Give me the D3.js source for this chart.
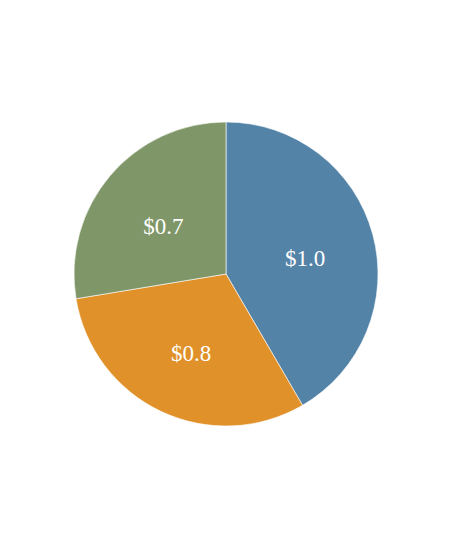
<!DOCTYPE html>
<html>
<head>
<meta charset="utf-8">
<script src="https://cdn.jsdelivr.net/npm/d3@7"></script>
<style>
  html, body { margin: 0; padding: 0; background: #ffffff; }
  svg { display: block; }
</style>
</head>
<body>
<svg id="chart" width="450" height="548"></svg>
<script>
const categories = ["A", "B", "C"];
const values = [1.04, 0.77, 0.69];
const labels = ["$1.0", "$0.8", "$0.7"];
const colors = ["#5483a8", "#e09129", "#7f9768"];

const width = 450, height = 548;
const cx = 226, cy = 274, R = 152;

const svg = d3.select("#chart");
const g = svg.append("g").attr("transform", `translate(${cx},${cy})`);

const data = categories.map((c, i) => ({ cat: c, value: values[i], label: labels[i], color: colors[i] }));

const pie = d3.pie().value(d => d.value).sort(null);
const arc = d3.arc().innerRadius(0).outerRadius(R);
const labelArc = d3.arc().innerRadius(82).outerRadius(82);

const arcs = pie(data);

g.selectAll("path")
  .data(arcs)
  .join("path")
  .attr("d", arc)
  .attr("fill", d => d.data.color)
  .attr("stroke", "#ffffff")
  .attr("stroke-width", 0.6);

g.selectAll("text")
  .data(arcs)
  .join("text")
  .attr("x", d => labelArc.centroid(d)[0])
  .attr("y", d => labelArc.centroid(d)[1] + 13)
  .attr("text-anchor", "middle")
  .attr("fill", "#ffffff")
  .attr("font-family", "'Liberation Serif', 'Times New Roman', serif")
  .attr("font-size", 23)
  .text(d => d.data.label);
</script>
</body>
</html>
